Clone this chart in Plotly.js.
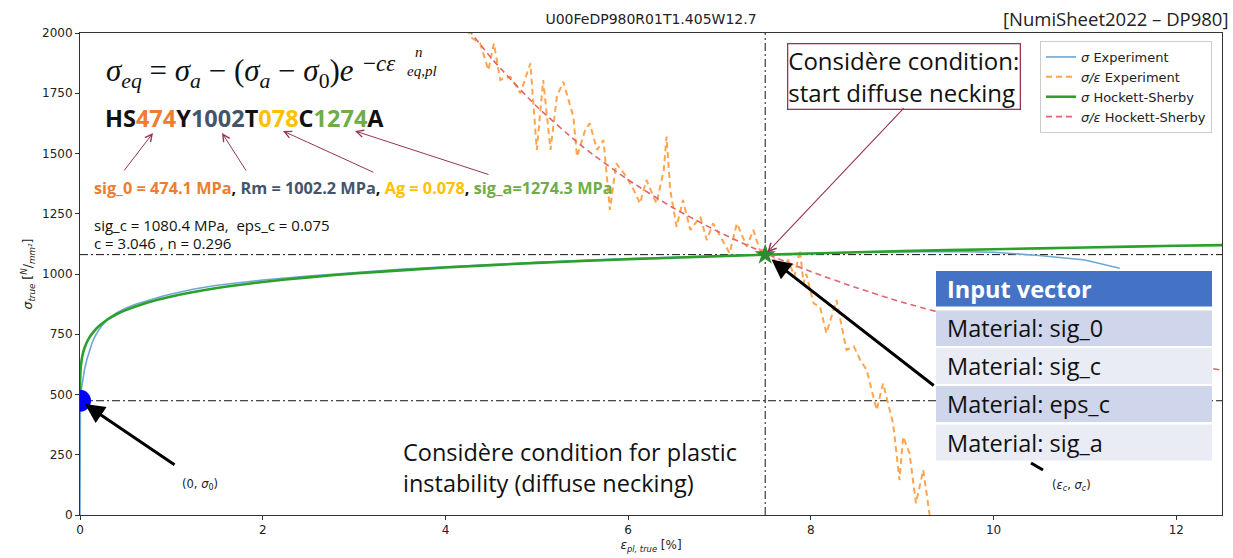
<!DOCTYPE html>
<html>
<head>
<meta charset="utf-8">
<script src="https://cdn.plot.ly/plotly-3.0.1.min.js"></script>
<style>html,body{margin:0;padding:0;background:#fff;}#chart{width:1233px;height:558px;}</style>
</head>
<body>
<div id="chart"></div>
<script>
// ---- data ----
const sig_0 = 474.1;      // MPa
const sig_c = 1080.4;     // MPa
const eps_c = 7.5;        // % (0.075)

// sigma experiment (blue)
const expX = [0, 0, 0.005, 0.01, 0.02, 0.035, 0.05, 0.075, 0.1, 0.13, 0.16, 0.2, 0.25, 0.3, 0.4, 0.5, 0.6, 0.75, 0.9, 1.0, 1.25, 1.5, 1.75, 2.0, 2.5, 3.0, 3.5, 4.0, 4.5, 5.0, 5.5, 6.0, 6.5, 7.0, 7.5, 8.0, 8.5, 9.0, 9.5, 10.0, 10.5, 11.0, 11.38];
const expY = [0, 460, 490, 510, 540, 575, 605, 645, 680, 712, 738, 765, 790, 810, 838, 858, 873, 892, 908, 917, 938, 953, 965, 975, 992, 1007, 1019, 1030, 1040, 1049, 1057, 1064, 1070, 1076, 1081, 1086, 1090, 1092, 1094, 1090, 1077, 1058, 1024];

// sigma/eps experiment (orange dashed)
const expRX = [4.20, 4.27, 4.38, 4.47, 4.53, 4.60, 4.71, 4.82, 4.93, 5.00, 5.07, 5.15, 5.22, 5.29, 5.40, 5.44, 5.53, 5.58, 5.66, 5.73, 5.80, 5.87, 5.98, 6.06, 6.13, 6.20, 6.31, 6.39, 6.42, 6.46, 6.53, 6.60, 6.68, 6.79, 6.86, 6.93, 7.01, 7.11, 7.19, 7.30, 7.37, 7.44, 7.52, 7.60, 7.68, 7.75, 7.82, 7.88, 7.92, 7.95, 8.03, 8.10, 8.17, 8.28, 8.39, 8.47, 8.54, 8.61, 8.72, 8.79, 8.90, 8.97, 9.01, 9.08, 9.15, 9.23, 9.30];
const expRY = [2100, 1985, 1957, 1846, 1957, 1805, 1819, 1750, 1874, 1515, 1805, 1515, 1736, 1798, 1653, 1487, 1598, 1625, 1515, 1556, 1266, 1459, 1404, 1349, 1293, 1390, 1293, 1432, 1570, 1349, 1196, 1307, 1183, 1238, 1141, 1210, 1155, 1086, 1210, 1113, 1183, 1100, 1100, 1060, 1000, 1060, 990, 1100, 961, 1000, 878, 864, 754, 892, 685, 700, 643, 602, 436, 546, 380, 145, 325, 256, 49, 187, 0];

// sigma Hockett-Sherby (green)
const hsX = [0, 0.002, 0.005, 0.01, 0.02, 0.035, 0.05, 0.075, 0.1, 0.15, 0.2, 0.3, 0.4, 0.5, 0.75, 1, 1.5, 2, 2.5, 3, 4, 5, 6, 7, 7.5, 8, 9, 10, 11, 12, 12.5];
const hsY = [474.1, 567, 594, 619, 648, 675, 694, 717, 735, 761, 781, 811, 833, 850, 883, 907, 942, 967, 986, 1002, 1027, 1046, 1061, 1074, 1080, 1085, 1095, 1103, 1110, 1117, 1120];

// sigma/eps Hockett-Sherby (red dashed)
const hsRX = [4.0, 4.2, 4.5, 5.0, 5.5, 6.0, 6.5, 7.0, 7.5, 8.0, 8.5, 9.0, 10.0, 11.0, 12.0, 12.5];
const hsRY = [2149, 2041, 1897, 1695, 1529, 1391, 1273, 1173, 1086, 1010, 943, 883, 782, 700, 632, 601];

const xTicks = [0, 2, 4, 6, 8, 10, 12];
const yTicks = [0, 250, 500, 750, 1000, 1250, 1500, 1750, 2000];
const tableRows = ["Material: sig_0", "Material: sig_c", "Material: eps_c", "Material: sig_a"];

// ---- geometry helpers (plot area px -> paper) ----
const L = 80, R = 1222, T = 33, B = 515;
const px = v => (v - L) / (R - L);
const py = v => (B - v) / (B - T);

const traces = [
  {x: expX, y: expY, mode: 'lines', name: '<i>σ</i> Experiment', line: {color: '#6ea7d6', width: 1.6}},
  {x: expRX, y: expRY, mode: 'lines', name: '<i>σ/ε</i> Experiment', line: {color: '#ffa54f', width: 2, dash: '6px,4px'}},
  {x: hsX, y: hsY, mode: 'lines', name: '<i>σ</i> Hockett-Sherby', line: {color: '#2ca02c', width: 2.6, shape: 'spline', smoothing: 0.6}},
  {x: hsRX, y: hsRY, mode: 'lines', name: '<i>σ/ε</i> Hockett-Sherby', line: {color: '#e0666e', width: 1.6, dash: '6px,4px', shape: 'spline', smoothing: 0.6}},
  {x: [0], y: [sig_0], mode: 'markers', showlegend: false, marker: {color: '#0000ff', size: 22}, cliponaxis: true},
  {x: [eps_c], y: [sig_c], mode: 'markers', showlegend: false, marker: {color: '#2e8b2e', size: 16, symbol: 'star'}}
];

const dd = '8px,3px,2px,3px';
const shapes = [
  {type: 'line', xref: 'x', yref: 'paper', x0: eps_c, x1: eps_c, y0: 0, y1: 1, line: {color: '#111', width: 1, dash: dd}, layer: 'below'},
  {type: 'line', xref: 'paper', yref: 'y', x0: 0, x1: 1, y0: sig_c, y1: sig_c, line: {color: '#111', width: 1, dash: dd}, layer: 'below'},
  {type: 'line', xref: 'paper', yref: 'y', x0: 0, x1: 1, y0: sig_0, y1: sig_0, line: {color: '#111', width: 1, dash: dd}, layer: 'below'},
  // arrow stub below the table
  {type: 'line', xref: 'paper', yref: 'paper', x0: px(1031), y0: py(463), x1: px(1043), y1: py(470), line: {color: '#000', width: 3}, layer: 'above'},
  // table
  {type: 'rect', xref: 'paper', yref: 'paper', x0: px(936), x1: px(1212), y0: py(460.5), y1: py(271), fillcolor: '#ffffff', line: {width: 0}, layer: 'above'},
  {type: 'rect', xref: 'paper', yref: 'paper', x0: px(936), x1: px(1212), y0: py(306.5), y1: py(271), fillcolor: '#4472C4', line: {width: 0}, layer: 'above'},
  {type: 'rect', xref: 'paper', yref: 'paper', x0: px(936), x1: px(1212), y0: py(346), y1: py(310.5), fillcolor: '#CFD5EA', line: {width: 0}, layer: 'above'},
  {type: 'rect', xref: 'paper', yref: 'paper', x0: px(936), x1: px(1212), y0: py(384), y1: py(348), fillcolor: '#E9EBF5', line: {width: 0}, layer: 'above'},
  {type: 'rect', xref: 'paper', yref: 'paper', x0: px(936), x1: px(1212), y0: py(422), y1: py(386), fillcolor: '#CFD5EA', line: {width: 0}, layer: 'above'},
  {type: 'rect', xref: 'paper', yref: 'paper', x0: px(936), x1: px(1212), y0: py(460.5), y1: py(424.5), fillcolor: '#E9EBF5', line: {width: 0}, layer: 'above'}
];

const OS = 'Open Sans, sans-serif';
const maroon = '#9a3356';
const ann = [];
const txt = (x, y, text, font, extra) => ann.push(Object.assign({xref: 'paper', yref: 'paper', x: px(x), y: py(y), text: text, showarrow: false, xanchor: 'left', yanchor: 'middle', align: 'left', font: font}, extra || {}));

// equation
txt(104, 73, '<i>σ</i><sub><i>eq</i></sub> = <i>σ</i><sub><i>a</i></sub> − (<i>σ</i><sub><i>a</i></sub> − <i>σ</i><sub>0</sub>)<i>e</i>', {family: 'Liberation Serif, serif', size: 31, color: '#111'});
txt(361, 63, '−<i>cε</i>', {family: 'Liberation Serif, serif', size: 23, color: '#111'});
txt(413, 52, '<i>n</i>', {family: 'Liberation Serif, serif', size: 15, color: '#111'});
txt(405, 71, '<i>eq,pl</i>', {family: 'Liberation Serif, serif', size: 15, color: '#111'});

// HS code
txt(103, 118, '<b>HS<span style="color:#ED7D31">474</span>Y<span style="color:#44546A">1002</span>T<span style="color:#FFC000">078</span>C<span style="color:#70AD47">1274</span>A</b>', {family: OS, size: 23.5, color: '#111'});
// labels line
txt(92, 188, '<b><span style="color:#ED7D31">sig_0 = 474.1 MPa</span>, <span style="color:#44546A">Rm = 1002.2 MPa</span>, <span style="color:#FFC000">Ag = 0.078</span>, <span style="color:#70AD47">sig_a=1274.3 MPa</span></b>', {family: OS, size: 16.3, color: '#111'});
txt(92, 225, 'sig_c = 1080.4 MPa,\u00a0 eps_c = 0.075', {family: OS, size: 15, color: '#111'});
txt(92, 242.5, 'c = 3.046 , n = 0.296', {family: OS, size: 15, color: '#111'});

// maroon arrows from labels to HS code
[[153, 133, 123, 172], [222, 133, 247, 172], [283, 131, 375, 173], [355, 131, 490, 175]].forEach(a => {
  ann.push({xref: 'paper', yref: 'paper', x: px(a[0]), y: py(a[1]), ax: a[2] - a[0], ay: a[3] - a[1], text: '', showarrow: true, arrowhead: 5, arrowsize: 1.4, arrowwidth: 1, arrowcolor: maroon});
});

// Considere box + connector
ann.push({xref: 'paper', yref: 'paper', x: px(904), y: py(76), text: 'Considère condition:<br>start diffuse necking', showarrow: false, xanchor: 'center', yanchor: 'middle', align: 'left', font: {family: OS, size: 24, color: '#111'}, bordercolor: maroon, borderwidth: 1.3, borderpad: 0, bgcolor: '#ffffff'});
ann.push({xref: 'x', yref: 'y', x: eps_c, y: sig_c, ax: 140, ay: -148, text: '', showarrow: true, arrowhead: 5, arrowsize: 1.4, arrowwidth: 1.1, arrowcolor: maroon, standoff: 3});

// black arrows
ann.push({xref: 'x', yref: 'y', x: 0, y: sig_0, ax: 96, ay: 65, text: '', showarrow: true, arrowhead: 2, arrowsize: 1.3, arrowwidth: 3, arrowcolor: '#000', standoff: 6});
ann.push({xref: 'x', yref: 'y', x: eps_c, y: sig_c, ax: 170, ay: 132, text: '', showarrow: true, arrowhead: 2, arrowsize: 1.3, arrowwidth: 3, arrowcolor: '#000', standoff: 8});
txt(180, 484, '(0, <i>σ</i><sub>0</sub>)', {family: 'DejaVu Sans, sans-serif', size: 11.5, color: '#222'});
txt(1050, 485, '(<i>ε</i><sub><i>c</i></sub>, <i>σ</i><sub><i>c</i></sub>)', {family: 'DejaVu Sans, sans-serif', size: 11.5, color: '#222'});

// bottom text
txt(401, 467, 'Considère condition for plastic<br>instability (diffuse necking)', {family: OS, size: 23.5, color: '#111'});

// top-right tag
ann.push({xref: 'paper', yref: 'paper', x: px(1231), y: py(18), text: '[NumiSheet2022 – DP980]', showarrow: false, xanchor: 'right', yanchor: 'middle', font: {family: OS, size: 18.5, color: '#222'}});

// table text
txt(945, 289, '<b>Input vector</b>', {family: OS, size: 23.5, color: '#ffffff'});
[328, 366, 404, 442.5].forEach((y, i) => txt(945, y, tableRows[i], {family: OS, size: 23.5, color: '#111'}));

const layout = {
  width: 1233, height: 558,
  margin: {l: L, r: 1233 - R, t: T, b: 558 - B},
  paper_bgcolor: '#ffffff', plot_bgcolor: '#ffffff',
  title: {text: 'U00FeDP980R01T1.405W12.7', font: {family: 'DejaVu Sans, sans-serif', size: 14, color: '#222'}, x: 0.5, xref: 'paper', y: 1 - 19 / 558, yanchor: 'middle'},
  xaxis: {range: [0, 12.5], tickvals: xTicks, ticks: 'outside', ticklen: 4, tickcolor: '#333', showgrid: false, zeroline: false, showline: true, mirror: true, linecolor: '#333', linewidth: 1,
    tickfont: {family: 'DejaVu Sans, sans-serif', size: 12, color: '#222'},
    title: {text: '<i>ε</i><sub><i>pl, true</i></sub> [%]', font: {family: 'DejaVu Sans, sans-serif', size: 12, color: '#222'}, standoff: 4}, automargin: false},
  yaxis: {range: [0, 2000], tickvals: yTicks, ticks: 'outside', ticklen: 4, tickcolor: '#333', showgrid: false, zeroline: false, showline: true, mirror: true, linecolor: '#333', linewidth: 1,
    tickfont: {family: 'DejaVu Sans, sans-serif', size: 12, color: '#222'},
    title: {text: '<i>σ</i><sub><i>true</i></sub> [<sup><i>N</i></sup>/<sub><i>mm²</i></sub>]', font: {family: 'DejaVu Sans, sans-serif', size: 12.5, color: '#222'}, standoff: 6}, automargin: false},
  legend: {x: px(1040), y: py(41), xanchor: 'left', yanchor: 'top', bgcolor: '#ffffff', bordercolor: '#cccccc', borderwidth: 1, font: {family: 'DejaVu Sans, sans-serif', size: 13, color: '#222'}, tracegroupgap: 0},
  showlegend: true,
  shapes: shapes,
  annotations: ann
};

Plotly.newPlot('chart', traces, layout, {displayModeBar: false, staticPlot: true});
</script>
</body>
</html>
